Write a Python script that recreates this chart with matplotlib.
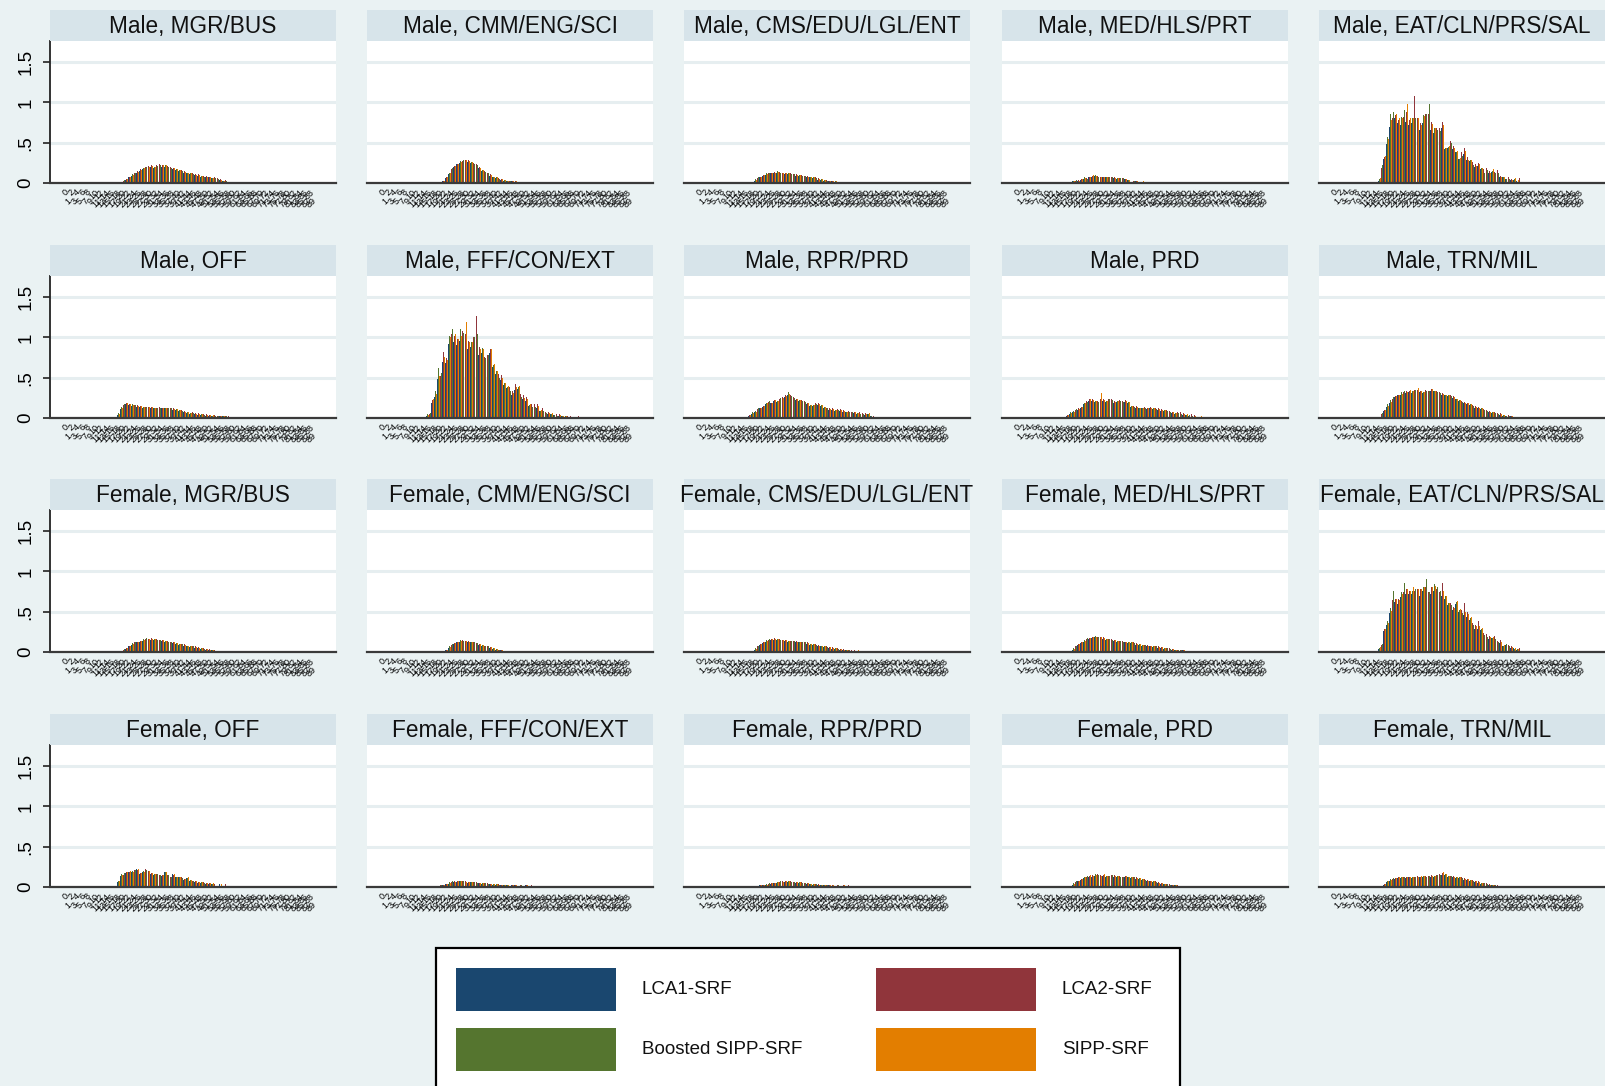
import matplotlib
matplotlib.use("Agg")
import matplotlib.pyplot as plt
from matplotlib.patches import Rectangle
from matplotlib import font_manager
import numpy as np

# ------------------------------------------------------------
# Data (heights in hundredths, one list per estimator, by age)
# order of each panel: LCA1, LCA2, Boosted SIPP, SIPP
# ------------------------------------------------------------
SERIES = ["LCA1-SRF", "LCA2-SRF", "Boosted SIPP-SRF", "SIPP-SRF"]
COLORS = ["#1a476f", "#90353b", "#55752f", "#e37e00"]
AGES = list(range(0, 90))
YTICKS = [0, 0.5, 1, 1.5]
YTICK_LABELS = ["0", ".5", "1", "1.5"]

M_MGR_START = 21
M_MGR = [
    [2, 4, 7, 9, 11, 13, 15, 17, 18, 19, 20, 19, 20, 21, 20, 20, 19, 18, 17, 16, 15, 14, 13, 12, 11, 10, 10, 9, 8, 8, 7, 7, 6, 5, 5, 4, 3, 2],
    [3, 5, 8, 10, 12, 15, 17, 19, 20, 21, 22, 21, 22, 23, 22, 23, 21, 20, 19, 18, 17, 16, 15, 14, 13, 12, 11, 11, 10, 9, 9, 8, 7, 7, 6, 5, 4, 4],
    [4, 6, 9, 11, 13, 14, 16, 18, 20, 20, 21, 20, 21, 22, 21, 22, 20, 19, 18, 17, 16, 15, 14, 13, 12, 11, 10, 10, 9, 8, 8, 7, 6, 6, 5, 4, 3, 3],
    [3, 5, 8, 10, 12, 14, 16, 18, 19, 20, 21, 20, 21, 22, 22, 22, 20, 19, 18, 17, 16, 15, 14, 13, 12, 11, 10, 10, 9, 8, 8, 7, 6, 6, 5, 4, 3, 3],
]

M_CMM_START = 22
M_CMM = [
    [2, 6, 11, 16, 20, 23, 25, 26, 27, 26, 25, 23, 21, 18, 15, 13, 11, 9, 7, 6, 5, 4, 3, 3, 2, 2, 1, 1, 1],
    [3, 7, 12, 17, 21, 24, 26, 27, 29, 28, 27, 25, 23, 20, 17, 15, 13, 11, 9, 8, 6, 5, 5, 4, 3, 3, 2, 2, 1],
    [4, 8, 13, 18, 22, 25, 27, 28, 28, 27, 26, 24, 22, 19, 16, 14, 12, 10, 8, 7, 5, 5, 4, 3, 3, 2, 2, 1, 1],
    [3, 7, 12, 17, 21, 24, 26, 27, 28, 27, 26, 24, 22, 19, 16, 14, 12, 10, 8, 7, 5, 5, 4, 3, 3, 2, 2, 1, 1],
]

M_CMS_START = 20
M_CMS = [
    [3, 5, 7, 9, 10, 11, 12, 12, 13, 12, 12, 11, 11, 10, 10, 9, 9, 8, 8, 7, 7, 6, 5, 4, 4, 3, 3, 2, 2, 1],
    [4, 6, 8, 10, 11, 12, 13, 14, 14, 14, 13, 13, 12, 12, 11, 11, 10, 10, 9, 9, 8, 8, 7, 6, 5, 5, 4, 3, 3, 2],
    [5, 7, 9, 11, 12, 13, 14, 13, 15, 13, 13, 12, 12, 11, 11, 10, 10, 9, 9, 8, 8, 7, 6, 5, 5, 4, 3, 3, 2, 2],
    [4, 6, 8, 10, 11, 12, 13, 13, 14, 13, 13, 12, 12, 11, 11, 10, 10, 9, 9, 8, 8, 7, 6, 5, 5, 4, 3, 3, 2, 2],
]

M_MED_START = 20
M_MED = [
    [3, 3, 3, 4, 5, 5, 7, 8, 9, 8, 7, 7, 7, 6, 6, 6, 5, 6, 5, 5, 4, 0, 0, 3, 0, 0],
    [3, 3, 4, 5, 6, 6, 8, 9, 10, 9, 8, 8, 7, 7, 7, 7, 6, 6, 6, 5, 5, 0, 3, 3, 0, 3],
    [3, 4, 3, 6, 7, 5, 9, 10, 10, 8, 8, 8, 7, 7, 7, 6, 6, 6, 6, 5, 4, 0, 3, 0, 0, 0],
    [3, 3, 3, 5, 6, 5, 8, 10, 9, 8, 8, 8, 7, 7, 7, 6, 6, 6, 6, 5, 4, 0, 3, 3, 0, 3],
]

M_EAT_START = 16
M_EAT = [
    [3, 15, 30, 48, 70, 75, 80, 74, 72, 78, 76, 72, 74, 70, 73, 66, 74, 76, 80, 66, 62, 64, 60, 68, 42, 44, 47, 42, 38, 30, 33, 36, 28, 27, 22, 20, 21, 17, 14, 15, 12, 14, 11, 13, 7, 7, 5, 5, 4, 4, 3, 0, 0, 0, 0],
    [8, 18, 32, 52, 76, 80, 84, 78, 80, 82, 88, 78, 82, 108, 80, 74, 84, 86, 86, 76, 70, 68, 68, 76, 46, 48, 52, 46, 42, 34, 38, 43, 32, 33, 26, 24, 25, 21, 17, 19, 15, 18, 14, 16, 9, 9, 7, 7, 5, 6, 4, 6, 0, 0, 4],
    [5, 22, 36, 57, 85, 88, 90, 84, 82, 90, 104, 82, 80, 80, 82, 70, 84, 86, 98, 74, 68, 66, 64, 70, 43, 45, 49, 43, 39, 30, 34, 38, 28, 28, 22, 20, 22, 18, 13, 16, 11, 15, 12, 12, 6, 7, 5, 5, 3, 5, 0, 0, 0, 0, 0],
    [6, 20, 33, 54, 78, 82, 86, 80, 80, 84, 98, 80, 80, 82, 80, 72, 83, 84, 88, 73, 68, 67, 65, 72, 44, 46, 50, 44, 40, 31, 35, 40, 29, 29, 23, 21, 23, 19, 15, 17, 13, 17, 13, 15, 8, 8, 6, 6, 4, 6, 4, 4, 0, 0, 0],
]

M_OFF_START = 19
M_OFF = [
    [4, 11, 15, 17, 16, 15, 15, 14, 14, 13, 13, 13, 13, 12, 12, 12, 12, 12, 11, 11, 10, 10, 9, 8, 7, 6, 5, 5, 5, 4, 4, 4, 3, 3, 3, 3, 2, 2, 2, 2, 2],
    [5, 12, 16, 18, 17, 16, 16, 16, 15, 15, 14, 14, 14, 14, 13, 14, 13, 13, 13, 12, 12, 11, 11, 10, 9, 8, 7, 7, 6, 6, 5, 5, 5, 4, 4, 4, 3, 3, 3, 3, 2],
    [6, 14, 17, 19, 18, 17, 16, 15, 15, 14, 14, 14, 14, 13, 13, 13, 13, 13, 12, 12, 11, 11, 10, 9, 8, 7, 6, 6, 5, 5, 5, 4, 4, 4, 3, 3, 3, 2, 2, 2, 0],
    [5, 12, 16, 18, 17, 16, 16, 15, 15, 14, 14, 14, 14, 13, 13, 13, 13, 13, 12, 12, 11, 11, 10, 9, 8, 7, 6, 6, 5, 5, 5, 4, 4, 4, 4, 3, 3, 3, 3, 2, 2],
]

M_FFF_START = 16
M_FFF = [
    [3, 4, 18, 26, 48, 48, 70, 68, 92, 98, 94, 90, 95, 96, 96, 86, 88, 90, 92, 78, 80, 68, 72, 80, 63, 55, 47, 47, 41, 37, 32, 29, 35, 36, 25, 23, 21, 15, 13, 14, 13, 9, 9, 6, 5, 5, 4, 3, 3, 2, 0, 0, 0, 0, 0, 0],
    [4, 5, 22, 30, 55, 52, 82, 74, 100, 104, 102, 98, 104, 108, 104, 96, 96, 100, 126, 88, 86, 75, 78, 86, 70, 62, 54, 53, 47, 44, 38, 34, 42, 44, 30, 28, 26, 20, 17, 17, 17, 12, 12, 8, 7, 7, 6, 5, 5, 4, 3, 3, 3, 0, 0, 3],
    [5, 6, 26, 34, 62, 56, 92, 81, 102, 110, 104, 100, 110, 105, 102, 95, 94, 100, 104, 86, 87, 74, 78, 88, 66, 58, 49, 50, 43, 39, 34, 30, 37, 39, 26, 24, 22, 16, 14, 14, 14, 9, 9, 6, 5, 5, 4, 3, 3, 2, 2, 0, 0, 0, 0, 0],
    [4, 5, 24, 30, 52, 52, 75, 72, 100, 106, 104, 98, 102, 104, 119, 94, 94, 98, 100, 85, 85, 73, 77, 85, 67, 58, 50, 50, 44, 40, 35, 31, 38, 40, 27, 25, 23, 17, 15, 15, 15, 10, 10, 7, 6, 6, 5, 4, 4, 3, 3, 2, 0, 0, 0, 0],
]

M_RPR_START = 18
M_RPR = [
    [3, 5, 7, 10, 12, 14, 17, 19, 18, 21, 20, 22, 24, 26, 28, 26, 24, 22, 21, 20, 19, 17, 15, 15, 16, 16, 15, 13, 11, 10, 10, 9, 9, 9, 8, 7, 7, 6, 6, 5, 5, 4, 4, 5, 3, 0],
    [4, 6, 8, 11, 13, 15, 18, 20, 19, 22, 22, 24, 26, 28, 29, 28, 26, 24, 23, 22, 21, 19, 17, 17, 18, 18, 17, 15, 13, 12, 12, 11, 11, 11, 10, 9, 9, 8, 8, 7, 7, 6, 6, 6, 4, 3],
    [5, 7, 9, 12, 14, 16, 19, 21, 20, 23, 21, 25, 26, 29, 32, 27, 25, 23, 22, 21, 20, 18, 16, 16, 17, 17, 16, 14, 12, 11, 11, 10, 10, 10, 9, 8, 8, 7, 6, 6, 5, 5, 4, 5, 3, 0],
    [4, 6, 8, 11, 13, 15, 18, 20, 19, 22, 21, 24, 25, 27, 30, 27, 25, 23, 22, 21, 20, 18, 16, 16, 17, 17, 16, 14, 12, 11, 11, 10, 10, 10, 9, 8, 8, 7, 7, 6, 6, 5, 5, 6, 4, 3],
]

M_PRD_START = 18
M_PRD = [
    [3, 5, 7, 9, 10, 13, 17, 19, 21, 21, 20, 19, 22, 21, 20, 22, 21, 19, 20, 20, 19, 20, 19, 14, 13, 13, 12, 12, 12, 11, 12, 11, 10, 10, 9, 9, 8, 7, 6, 5, 5, 5, 4, 4, 3, 3, 0, 0, 0],
    [4, 6, 8, 10, 12, 14, 18, 21, 23, 23, 22, 21, 24, 23, 22, 24, 23, 21, 22, 22, 21, 22, 21, 16, 15, 15, 14, 14, 14, 13, 14, 13, 12, 12, 11, 11, 10, 9, 8, 7, 7, 7, 6, 6, 5, 5, 4, 0, 3],
    [5, 7, 9, 11, 12, 15, 19, 20, 22, 22, 21, 20, 25, 22, 21, 24, 22, 20, 21, 21, 20, 21, 20, 15, 14, 14, 13, 13, 13, 12, 13, 12, 11, 11, 10, 10, 9, 8, 7, 6, 6, 5, 5, 4, 4, 3, 3, 0, 0],
    [4, 6, 8, 10, 11, 14, 18, 20, 23, 22, 21, 20, 31, 22, 21, 23, 22, 20, 21, 21, 20, 21, 20, 15, 14, 14, 13, 13, 13, 12, 13, 12, 11, 11, 10, 10, 9, 8, 7, 6, 6, 6, 5, 5, 4, 4, 3, 0, 3],
]

M_TRN_START = 17
M_TRN = [
    [4, 9, 14, 19, 23, 26, 28, 29, 30, 31, 32, 31, 33, 34, 32, 31, 33, 32, 33, 33, 31, 30, 29, 28, 27, 26, 25, 23, 21, 19, 18, 17, 16, 14, 13, 12, 11, 9, 8, 7, 6, 5, 4, 4, 3, 3, 2, 2],
    [5, 10, 15, 20, 24, 27, 29, 31, 32, 33, 34, 34, 35, 35, 34, 33, 35, 34, 36, 35, 33, 32, 31, 30, 29, 28, 27, 25, 23, 21, 20, 19, 18, 16, 15, 14, 13, 11, 10, 9, 8, 7, 6, 6, 5, 4, 4, 3],
    [6, 12, 17, 22, 26, 29, 31, 32, 33, 34, 36, 34, 35, 38, 33, 32, 34, 33, 35, 34, 32, 31, 30, 29, 28, 27, 26, 24, 22, 20, 19, 18, 17, 15, 14, 13, 12, 10, 9, 8, 7, 6, 5, 4, 4, 3, 2, 0],
    [5, 10, 15, 20, 24, 27, 29, 30, 31, 32, 35, 33, 34, 37, 33, 32, 34, 33, 36, 34, 32, 31, 30, 29, 28, 27, 26, 24, 22, 20, 19, 18, 17, 15, 14, 13, 12, 10, 9, 8, 7, 6, 5, 5, 4, 3, 3, 2],
]

F_MGR_START = 21
F_MGR = [
    [2, 4, 7, 9, 11, 12, 13, 14, 15, 15, 15, 15, 14, 14, 14, 13, 12, 12, 11, 10, 9, 9, 8, 7, 6, 6, 5, 5, 4, 4, 3, 3, 2, 2],
    [3, 5, 8, 10, 12, 13, 14, 15, 16, 16, 17, 16, 16, 15, 15, 15, 14, 13, 13, 12, 11, 10, 10, 9, 8, 7, 7, 6, 5, 5, 4, 4, 3, 2],
    [4, 6, 9, 11, 13, 14, 15, 16, 17, 16, 16, 16, 15, 15, 15, 14, 13, 13, 12, 11, 10, 10, 9, 8, 7, 7, 6, 5, 5, 4, 4, 3, 2, 0],
    [3, 5, 8, 10, 12, 13, 14, 15, 16, 16, 16, 16, 15, 15, 15, 14, 13, 13, 12, 11, 10, 10, 9, 8, 7, 7, 6, 5, 5, 4, 4, 3, 3, 2],
]

F_CMM_START = 23
F_CMM = [
    [2, 5, 8, 10, 12, 13, 13, 13, 12, 12, 11, 10, 9, 8, 7, 6, 5, 4, 3, 3, 2],
    [3, 6, 9, 11, 13, 14, 15, 14, 14, 13, 12, 11, 10, 9, 8, 7, 6, 5, 4, 3, 2],
    [4, 7, 10, 12, 14, 15, 14, 14, 13, 13, 12, 11, 10, 9, 8, 7, 6, 5, 4, 3, 2],
    [3, 6, 9, 11, 13, 14, 15, 14, 13, 13, 12, 11, 10, 9, 8, 7, 6, 5, 4, 3, 2],
]

F_CMS_START = 20
F_CMS = [
    [3, 6, 9, 11, 13, 14, 15, 15, 15, 14, 14, 14, 13, 13, 13, 12, 12, 11, 11, 10, 9, 9, 8, 7, 7, 6, 5, 5, 4, 4, 3, 3, 3, 2, 2, 0, 0, 0, 2],
    [4, 7, 10, 12, 14, 15, 16, 17, 16, 16, 15, 15, 15, 14, 14, 14, 13, 13, 12, 12, 11, 10, 10, 9, 8, 8, 7, 6, 6, 5, 5, 4, 4, 3, 3, 2, 2, 2, 0],
    [5, 8, 11, 13, 15, 16, 16, 16, 16, 15, 15, 15, 14, 14, 14, 13, 13, 12, 12, 11, 10, 10, 9, 8, 8, 7, 6, 6, 5, 5, 4, 4, 3, 3, 2, 0, 0, 0, 0],
    [4, 7, 10, 12, 14, 15, 16, 16, 16, 15, 15, 15, 14, 14, 14, 13, 13, 12, 12, 11, 10, 10, 9, 8, 8, 7, 6, 6, 5, 5, 4, 4, 3, 3, 2, 2, 0, 2, 2],
]

F_MED_START = 20
F_MED = [
    [3, 6, 9, 11, 13, 15, 16, 17, 18, 17, 17, 16, 15, 15, 14, 14, 13, 13, 12, 12, 11, 11, 10, 9, 9, 8, 8, 7, 7, 6, 6, 5, 5, 4, 4, 3, 3, 3, 2, 2, 2, 0, 0],
    [4, 7, 10, 12, 14, 16, 17, 18, 19, 19, 18, 18, 17, 16, 16, 15, 15, 14, 14, 13, 13, 12, 12, 11, 10, 10, 9, 9, 8, 8, 7, 7, 6, 6, 5, 5, 4, 4, 3, 3, 3, 0, 2],
    [5, 8, 11, 13, 15, 17, 18, 19, 20, 18, 18, 17, 16, 16, 15, 15, 14, 14, 13, 13, 12, 12, 11, 10, 10, 9, 9, 8, 8, 7, 7, 6, 6, 5, 5, 4, 4, 3, 3, 2, 2, 0, 0],
    [4, 7, 10, 12, 14, 16, 17, 18, 19, 18, 18, 17, 16, 16, 15, 15, 14, 14, 13, 13, 12, 12, 11, 10, 10, 9, 9, 8, 8, 7, 7, 6, 6, 5, 5, 4, 4, 3, 3, 3, 2, 0, 2],
]

F_EAT_START = 16
F_EAT = [
    [4, 8, 26, 34, 48, 60, 62, 60, 68, 68, 72, 72, 72, 70, 72, 70, 76, 72, 68, 72, 76, 72, 70, 70, 66, 58, 56, 52, 60, 50, 46, 46, 44, 40, 31, 29, 29, 27, 20, 18, 16, 17, 16, 11, 11, 8, 9, 7, 5, 5, 3, 3, 0, 0, 0],
    [6, 9, 28, 36, 52, 65, 66, 66, 72, 74, 78, 76, 76, 76, 78, 78, 80, 80, 74, 80, 82, 78, 74, 86, 72, 63, 61, 56, 64, 56, 52, 61, 49, 51, 36, 34, 38, 34, 24, 22, 20, 22, 20, 14, 15, 10, 12, 9, 7, 6, 5, 5, 0, 0, 4],
    [5, 10, 30, 38, 54, 75, 75, 76, 74, 86, 80, 78, 76, 78, 78, 87, 80, 90, 74, 95, 84, 80, 76, 76, 70, 61, 58, 53, 62, 52, 48, 48, 46, 42, 33, 30, 30, 28, 21, 19, 17, 17, 16, 12, 11, 8, 10, 7, 5, 4, 4, 0, 0, 0, 0],
    [6, 9, 28, 36, 51, 63, 66, 64, 72, 74, 78, 76, 80, 76, 78, 78, 80, 80, 72, 80, 82, 78, 74, 76, 70, 61, 59, 54, 63, 53, 49, 50, 47, 44, 34, 32, 32, 30, 22, 20, 18, 19, 19, 13, 13, 9, 11, 8, 6, 5, 4, 4, 0, 0, 0],
]

F_OFF_START = 19
F_OFF = [
    [6, 14, 16, 17, 18, 18, 20, 22, 16, 18, 20, 19, 16, 15, 15, 14, 14, 18, 14, 12, 16, 12, 12, 11, 9, 11, 8, 7, 6, 5, 5, 5, 4, 4, 4, 4, 0, 4, 0, 0],
    [7, 15, 15, 18, 19, 19, 21, 21, 17, 19, 22, 20, 17, 16, 16, 15, 15, 17, 15, 13, 15, 13, 13, 12, 10, 12, 9, 8, 7, 6, 6, 6, 5, 5, 5, 4, 0, 0, 0, 4],
    [8, 16, 17, 19, 23, 20, 21, 23, 18, 20, 21, 20, 17, 16, 16, 15, 15, 18, 15, 13, 16, 13, 12, 11, 10, 11, 9, 8, 7, 6, 6, 5, 5, 4, 4, 0, 0, 0, 0, 0],
    [7, 15, 16, 18, 20, 19, 21, 22, 17, 19, 21, 20, 17, 16, 16, 15, 15, 19, 15, 13, 16, 13, 13, 12, 10, 12, 9, 8, 7, 6, 6, 6, 5, 5, 5, 4, 0, 4, 0, 0],
]

F_FFF_START = 21
F_FFF = [
    [2, 3, 4, 4, 5, 6, 6, 7, 6, 6, 5, 6, 5, 5, 5, 4, 4, 4, 4, 3, 3, 3, 3, 2, 2, 0, 2, 2, 0, 0, 0, 2, 0, 0],
    [2, 3, 4, 5, 6, 7, 7, 7, 7, 7, 6, 6, 6, 6, 5, 5, 5, 5, 4, 4, 4, 4, 3, 3, 3, 0, 3, 2, 0, 2, 0, 2, 0, 2],
    [3, 4, 5, 6, 7, 6, 7, 8, 7, 6, 6, 6, 6, 5, 5, 5, 5, 4, 4, 4, 4, 3, 3, 3, 2, 0, 3, 0, 0, 2, 0, 0, 0, 0],
    [2, 3, 4, 5, 6, 6, 7, 7, 7, 6, 6, 6, 6, 5, 5, 5, 5, 4, 4, 4, 4, 3, 3, 3, 3, 0, 3, 2, 0, 2, 0, 2, 0, 2],
]

F_RPR_START = 22
F_RPR = [
    [2, 2, 3, 4, 4, 5, 5, 6, 6, 6, 6, 6, 5, 5, 5, 5, 4, 4, 4, 3, 3, 3, 2, 2, 2, 2, 0, 0, 2, 0, 0, 0, 0],
    [2, 3, 3, 4, 5, 5, 6, 6, 7, 7, 7, 7, 6, 6, 6, 6, 5, 5, 5, 4, 4, 4, 3, 3, 3, 2, 2, 0, 2, 0, 2, 0, 2],
    [3, 3, 4, 5, 5, 6, 6, 7, 6, 7, 7, 6, 6, 6, 6, 5, 5, 5, 4, 4, 4, 3, 3, 3, 2, 2, 2, 0, 2, 0, 0, 0, 0],
    [2, 3, 3, 4, 5, 5, 6, 6, 6, 7, 8, 6, 6, 6, 6, 5, 5, 5, 4, 4, 4, 3, 3, 3, 2, 2, 2, 0, 2, 0, 2, 0, 0],
]

F_PRD_START = 20
F_PRD = [
    [3, 5, 7, 9, 11, 12, 13, 13, 14, 14, 13, 14, 13, 13, 14, 13, 13, 12, 12, 13, 12, 11, 11, 10, 10, 9, 8, 7, 7, 6, 5, 5, 4, 4, 3, 3, 2, 2, 0],
    [4, 6, 8, 10, 12, 13, 14, 15, 15, 16, 15, 15, 15, 14, 15, 15, 14, 14, 13, 14, 14, 13, 12, 12, 11, 11, 10, 9, 8, 8, 7, 6, 5, 5, 4, 4, 3, 3, 2],
    [5, 7, 9, 11, 13, 14, 15, 15, 16, 15, 14, 15, 14, 14, 15, 14, 14, 13, 13, 14, 13, 12, 12, 11, 11, 10, 9, 8, 8, 7, 6, 5, 5, 4, 4, 3, 2, 2, 0],
    [4, 6, 8, 10, 12, 13, 15, 14, 15, 15, 14, 16, 14, 14, 15, 14, 14, 13, 13, 14, 13, 12, 12, 11, 11, 10, 9, 8, 8, 7, 6, 5, 5, 4, 4, 3, 3, 2, 2],
]

F_TRN_START = 18
F_TRN = [
    [3, 6, 8, 9, 10, 11, 11, 11, 11, 12, 11, 12, 12, 12, 13, 12, 13, 13, 13, 14, 14, 15, 15, 13, 13, 12, 11, 11, 10, 9, 9, 8, 7, 6, 5, 4, 4, 3, 3, 2, 2, 0],
    [4, 7, 9, 10, 11, 12, 12, 13, 12, 13, 13, 13, 14, 13, 14, 14, 14, 15, 14, 15, 16, 17, 16, 15, 14, 14, 13, 12, 12, 11, 10, 10, 9, 8, 7, 6, 5, 5, 4, 3, 3, 2],
    [5, 8, 10, 11, 12, 13, 12, 12, 13, 13, 12, 13, 13, 13, 14, 13, 14, 14, 14, 15, 15, 16, 16, 14, 14, 13, 12, 12, 11, 10, 10, 9, 8, 7, 6, 5, 5, 4, 3, 2, 2, 0],
    [4, 7, 9, 10, 11, 12, 12, 12, 12, 13, 12, 13, 13, 14, 14, 13, 14, 14, 14, 15, 15, 18, 16, 14, 14, 13, 12, 12, 11, 10, 10, 9, 8, 7, 6, 5, 5, 4, 3, 3, 2, 2],
]

TITLES = [
    "Male, MGR/BUS", "Male, CMM/ENG/SCI", "Male, CMS/EDU/LGL/ENT", "Male, MED/HLS/PRT", "Male, EAT/CLN/PRS/SAL",
    "Male, OFF", "Male, FFF/CON/EXT", "Male, RPR/PRD", "Male, PRD", "Male, TRN/MIL",
    "Female, MGR/BUS", "Female, CMM/ENG/SCI", "Female, CMS/EDU/LGL/ENT", "Female, MED/HLS/PRT", "Female, EAT/CLN/PRS/SAL",
    "Female, OFF", "Female, FFF/CON/EXT", "Female, RPR/PRD", "Female, PRD", "Female, TRN/MIL",
]
PANELS = [
    (M_MGR_START, M_MGR), (M_CMM_START, M_CMM), (M_CMS_START, M_CMS), (M_MED_START, M_MED), (M_EAT_START, M_EAT),
    (M_OFF_START, M_OFF), (M_FFF_START, M_FFF), (M_RPR_START, M_RPR), (M_PRD_START, M_PRD), (M_TRN_START, M_TRN),
    (F_MGR_START, F_MGR), (F_CMM_START, F_CMM), (F_CMS_START, F_CMS), (F_MED_START, F_MED), (F_EAT_START, F_EAT),
    (F_OFF_START, F_OFF), (F_FFF_START, F_FFF), (F_RPR_START, F_RPR), (F_PRD_START, F_PRD), (F_TRN_START, F_TRN),
]

# ------------------------------------------------------------
# Style
# ------------------------------------------------------------
BG = "#eaf2f3"
BAND = "#d7e4ea"
GRID = "#e6eef0"

plt.rcParams["font.family"] = ["Liberation Sans", "DejaVu Sans"]

installed = {f.name for f in font_manager.fontManager.ttflist}
if "Liberation Sans Narrow" in installed:
    NARROW = ["Liberation Sans Narrow", "Liberation Sans"]
    LEG_SIZE, YT_SIZE = 16.5, 15
else:
    NARROW = ["Liberation Sans", "DejaVu Sans"]
    LEG_SIZE, YT_SIZE = 13.5, 13.5

W, H = 1606, 1086
fig = plt.figure(figsize=(W / 100, H / 100), dpi=100, facecolor=BG)


def fig_rect(x, y, w, h):
    # pixel box (top-left origin) -> figure fraction
    return [x / W, 1 - (y + h) / H, w / W, h / H]


COL_X = [50, 367, 684, 1002, 1319]
ROW_Y = [10, 245, 479, 714]
PW = 286
BAND_H = 31
PLOT_H = 142
BAR_W = 0.24

for i, (title, (start, vals)) in enumerate(zip(TITLES, PANELS)):
    r, c = divmod(i, 5)
    x0, y0 = COL_X[c], ROW_Y[r]

    # title band
    fig.patches.append(Rectangle((x0 / W, 1 - (y0 + BAND_H) / H), PW / W, BAND_H / H,
                                 transform=fig.transFigure, facecolor=BAND,
                                 edgecolor="none", zorder=0))
    fig.text((x0 + PW / 2) / W, 1 - (y0 + BAND_H / 2 + 1) / H, title,
             ha="center", va="center", fontsize=16.3, color="#111111")

    ax = fig.add_axes(fig_rect(x0, y0 + BAND_H, PW, PLOT_H))
    ax.set_facecolor("white")

    for k in range(4):
        ages = np.arange(start, start + len(vals[k]))
        ax.bar(ages + (k - 1.5) * BAR_W, np.array(vals[k]) / 100.0,
               width=BAR_W, color=COLORS[k], linewidth=0, zorder=2)

    ax.set_xlim(-5.8, 97.8)
    ax.set_ylim(0, 1.76)

    ax.set_yticks(YTICKS)
    ax.yaxis.grid(True, color=GRID, linewidth=2.2, zorder=0)
    ax.set_axisbelow(True)

    for side in ["top", "right"]:
        ax.spines[side].set_visible(False)
    ax.spines["bottom"].set_color("#3a3a3a")
    ax.spines["bottom"].set_linewidth(1.6)

    if c == 0:
        ax.spines["left"].set_color("#222222")
        ax.spines["left"].set_linewidth(1.3)
        ax.set_yticklabels(YTICK_LABELS, rotation=90, va="center",
                           family=NARROW, fontsize=YT_SIZE)
        ax.tick_params(axis="y", length=5, width=1.2, color="#222222", pad=6)
    else:
        ax.spines["left"].set_visible(False)
        ax.tick_params(axis="y", length=0, labelleft=False)

    # crowded age labels, alternating in two rows
    ax.set_xticks(AGES[0::2])
    ax.set_xticklabels([str(a) for a in AGES[0::2]], rotation=45, fontsize=6.5,
                       ha="center", color="black")
    ax.set_xticks(AGES[1::2], minor=True)
    ax.set_xticklabels([str(a) for a in AGES[1::2]], minor=True, rotation=45,
                       fontsize=6.5, ha="center", color="black")
    ax.tick_params(axis="x", which="major", length=0, pad=3.5)
    ax.tick_params(axis="x", which="minor", length=0, pad=9.5)

# ------------------------------------------------------------
# Legend
# ------------------------------------------------------------
fig.patches.append(Rectangle((436 / W, 1 - 1100 / H), (1180 - 436) / W, (1100 - 948) / H,
                             transform=fig.transFigure, facecolor="white",
                             edgecolor="black", linewidth=1.6, zorder=1))
LEG_POS = [(456, 968), (876, 968), (456, 1028), (876, 1028)]
for k, (lx, ly) in enumerate(LEG_POS):
    fig.patches.append(Rectangle((lx / W, 1 - (ly + 43) / H), 160 / W, 43 / H,
                                 transform=fig.transFigure, facecolor=COLORS[k],
                                 edgecolor="none", zorder=2))
    fig.text((lx + 186) / W, 1 - (ly + 22) / H, SERIES[k], ha="left", va="center",
             family=NARROW, fontsize=LEG_SIZE, color="#111111", zorder=3)

fig.savefig("out.png", dpi=100, facecolor=BG)
